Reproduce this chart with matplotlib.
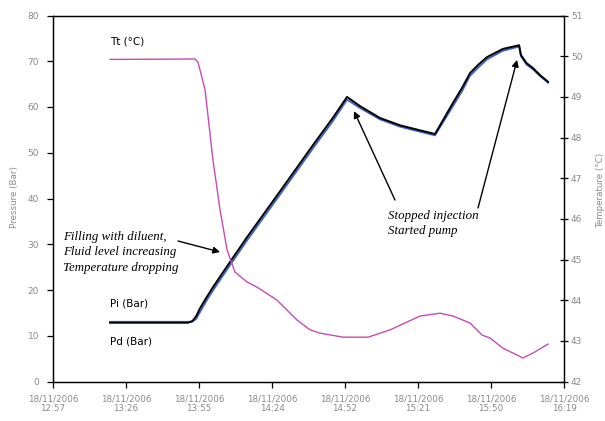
import matplotlib
matplotlib.use("Agg")
import matplotlib.pyplot as plt

# ---- data (x = minutes after 12:57:36, i.e. axis start 0.54 day) ----
p_time = [22.5, 53.3, 55.0, 56.5, 58.0, 60.8, 63.1, 66.5, 69.8, 76.5, 89.6,
          102.6, 110.5, 116.0, 121.1, 129.0, 136.9, 144.8, 150.7, 157.8, 161.4,
          164.5, 167.7, 171.2, 177.5, 183.9, 184.6, 186.8, 189.4, 192.1, 195.3]
pi_bar = [12.85, 12.85, 13.2, 14.3, 16.0, 18.6, 20.6, 23.4, 26.1, 31.5, 41.6,
          51.7, 57.7, 62.2, 60.2, 57.6, 56.0, 54.9, 54.1, 60.9, 64.2,
          67.4, 69.2, 70.9, 72.7, 73.5, 71.4, 69.6, 68.5, 67.0, 65.5]
pd_bar = [13.05, 13.05, 13.1, 13.7, 15.2, 17.9, 19.9, 22.7, 25.4, 30.8, 40.9,
          51.0, 57.0, 61.6, 59.8, 57.3, 55.7, 54.6, 53.8, 60.2, 63.5,
          66.8, 68.6, 70.4, 72.3, 73.2, 71.1, 69.3, 68.2, 66.8, 65.3]

t_time = [22.5, 56.0, 57.2, 58.0, 60.0, 63.1, 65.9, 68.7, 71.8, 76.5, 80.5, 88.4,
          96.3, 101.4, 105.3, 114.4, 124.3, 133.0, 144.8, 152.7, 157.8, 164.5,
          169.3, 172.4, 177.5, 185.4, 189.4, 195.3]
tt_c = [49.92, 49.93, 49.85, 49.66, 49.17, 47.45, 46.22, 45.23, 44.69, 44.45, 44.32, 44.0,
        43.51, 43.27, 43.19, 43.09, 43.09, 43.27, 43.61, 43.68, 43.61, 43.44,
        43.14, 43.07, 42.82, 42.58, 42.70, 42.92]

x_ticks = [0, 28.8, 57.6, 86.4, 115.2, 144.0, 172.8, 201.6]
x_labels = ["18/11/2006\n12:57", "18/11/2006\n13:26", "18/11/2006\n13:55",
            "18/11/2006\n14:24", "18/11/2006\n14:52", "18/11/2006\n15:21",
            "18/11/2006\n15:50", "18/11/2006\n16:19"]
p_ticks = [0, 10, 20, 30, 40, 50, 60, 70, 80]
t_ticks = [42, 43, 44, 45, 46, 47, 48, 49, 50, 51]

grey = "#8a8a8a"

fig = plt.figure(figsize=(6.05, 4.21), dpi=100)
ax = fig.add_axes([53 / 605, 1 - 381.5 / 421, 511 / 605, 366 / 421])
ax2 = ax.twinx()

ax.plot(p_time, pd_bar, color="#3a5fcd", lw=1.3, zorder=3)
ax.plot(p_time, pi_bar, color="black", lw=1.4, zorder=4)
ax2.plot(t_time, tt_c, color="#c74bb5", lw=1.0)

ax.set_xlim(0, 201.6)
ax.set_ylim(0, 80)
ax2.set_ylim(42, 51)
ax.set_xticks(x_ticks)
ax.set_xticklabels(x_labels)
ax.set_yticks(p_ticks)
ax2.set_yticks(t_ticks)

for a in (ax, ax2):
    for s in a.spines.values():
        s.set_linewidth(0.9)
        s.set_color("black")

ax.tick_params(axis="x", direction="out", length=4, width=0.9, pad=5,
               labelsize=6.3, labelcolor=grey)
ax.tick_params(axis="y", direction="out", length=4, width=0.9, pad=6,
               labelsize=6.5, labelcolor=grey)
ax2.tick_params(axis="y", direction="inout", length=6, width=0.9, pad=2,
                labelsize=6.5, labelcolor=grey)

fig.text(15 / 605, 1 - 197 / 421, "Pressure (Bar)", rotation=90, ha="center",
         va="center", fontsize=6.3, color=grey)
fig.text(601 / 605, 1 - 190 / 421, "Temperature (°C)", rotation=90, ha="center",
         va="center", fontsize=6.3, color=grey)

def fx(px):
    return (px - 53) / 511

def fy(py):
    return (381.5 - py) / 366

lab = dict(fontsize=7.5, color="black", ha="left", va="center", transform=ax.transAxes)
ax.text(fx(110), fy(42), "Tt (°C)", **lab)
ax.text(fx(110), fy(303), "Pi (Bar)", **lab)
ax.text(fx(110), fy(342), "Pd (Bar)", **lab)

serif = dict(family="Liberation Serif", style="italic", fontsize=9.3, color="black",
             ha="left", va="top", linespacing=1.38)
ax.text(fx(63), fy(231), "Filling with diluent,\nFluid level increasing\nTemperature dropping",
        transform=ax.transAxes, **serif)
ax.text(fx(388), fy(210), "Stopped injection\nStarted pump",
        transform=ax.transAxes, **serif)

arr = dict(arrowstyle="-|>", color="black", lw=1.0, mutation_scale=10, shrinkA=0, shrinkB=0)
ax.annotate("", xy=(65.9, 28.3), xycoords="data", xytext=(fx(178), fy(241)),
            textcoords="axes fraction", arrowprops=arr)
ax.annotate("", xy=(118.75, 59.1), xycoords="data", xytext=(fx(395), fy(200)),
            textcoords="axes fraction", arrowprops=arr)
ax.annotate("", xy=(183.1, 70.3), xycoords="data", xytext=(fx(478), fy(208)),
            textcoords="axes fraction", arrowprops=arr)

fig.savefig("out.png", dpi=100)
